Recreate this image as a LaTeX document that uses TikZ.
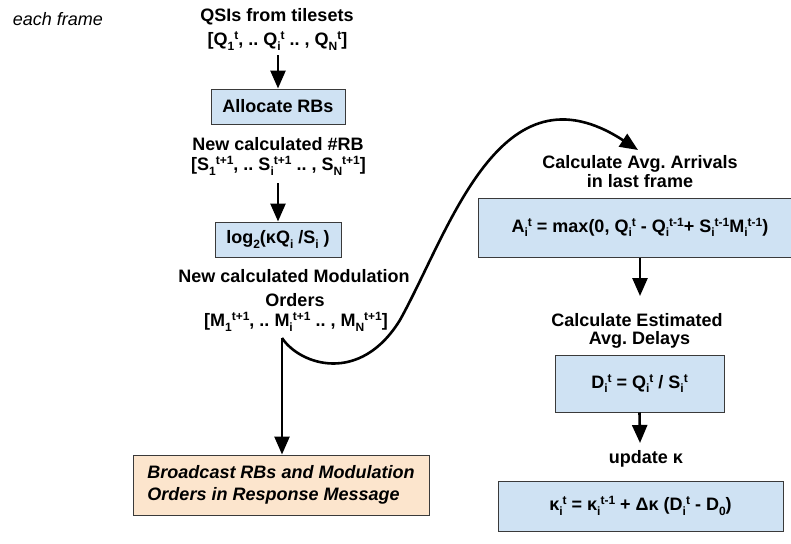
\documentclass[tikz,border=0pt]{standalone}
\usepackage{fontspec}
\setmainfont{Liberation Sans}
\usetikzlibrary{arrows.meta}
\definecolor{boxblue}{HTML}{CFE2F3}
\definecolor{boxorange}{HTML}{FCE5CD}
\definecolor{boxline}{HTML}{3A3A3A}
\newcommand{\MySub}[1]{{\fontsize{12}{12}\selectfont\raisebox{-4.5pt}{#1}}}
\newcommand{\MySup}[1]{{\fontsize{12}{12}\selectfont\raisebox{6pt}{#1}}}
\newcommand{\SubSup}[2]{\MySub{#1}\MySup{#2}}
\frenchspacing
\begin{document}
\begin{tikzpicture}[x=1pt,y=-1pt,
  txt/.style={font=\fontsize{18}{22}\selectfont\bfseries, inner sep=0pt, anchor=base},
  box/.style={draw=boxline, line width=1pt, inner sep=0pt,
    font=\fontsize{18}{22}\selectfont\bfseries},
  bluebox/.style={box, fill=boxblue},
  arr/.style={line width=2.6pt, -{Triangle[width=15pt,length=18pt]}}]
\useasboundingbox (0,0) rectangle (791,543);

% left column
\node[txt, font=\fontsize{18}{22}\selectfont\itshape] (ef) at (58,26) {each frame};
\node[txt] (q1) at (277,22) {QSIs from tilesets};
\node[txt] (q2) at (277.5,45.5) {[Q\SubSup{1}{t}, .. Q\SubSup{i}{t} .. , Q\SubSup{N}{t}]};
\coordinate (q2s) at (278,55);
\node[bluebox, minimum width=134pt, minimum height=35pt] (alloc) at (278,106.5) {Allocate RBs};
\node[txt] (s1) at (278,150) {New calculated \#RB};
\node[txt] (s2) at (278.5,170.5) {[S\SubSup{1}{t+1}, .. S\SubSup{i}{t+1} .. , S\SubSup{N}{t+1}]};
\coordinate (s2s) at (278,183);
\node[bluebox, minimum width=126pt, minimum height=35pt] (logb) at (278,239.5) {log\MySub{2}(κQ\MySub{i} /S\MySub{i} )};
\node[txt] (m1) at (294,282.7) {New calculated Modulation};
\node[txt] (m2) at (295,306) {Orders};
\node[txt] (m3) at (296,326.7) {[M\SubSup{1}{t+1}, .. M\SubSup{i}{t+1} .. , M\SubSup{N}{t+1}]};
\coordinate (ms) at (282,338);
\node[box, fill=boxorange, minimum width=296pt, minimum height=60pt, align=left,
  font=\fontsize{18}{22.5}\selectfont\bfseries\itshape] (bc) at (281,485)
  {Broadcast RBs and Modulation\\Orders in Response Message};

% right column
\node[txt] (ca1) at (640,168.3) {Calculate Avg. Arrivals};
\node[txt] (ca2) at (640,187.3) {in last frame};
\coordinate (cat) at (638,150);
\node[bluebox, minimum width=324pt, minimum height=59pt] (boxa) at (640,227.5)
  {A\SubSup{i}{t} = max(0, Q\SubSup{i}{t} - Q\SubSup{i}{t-1}+ S\SubSup{i}{t-1}M\SubSup{i}{t-1})};
\node[txt] (ce1) at (637,326.7) {Calculate Estimated};
\node[txt] (ce2) at (639.5,344) {Avg. Delays};
\coordinate (cet) at (640,296);
\node[bluebox, minimum width=169pt, minimum height=57pt] (boxd) at (639.5,383.5)
  {D\SubSup{i}{t} = Q\SubSup{i}{t} / S\SubSup{i}{t}};
\node[txt] (uk) at (646,463) {update κ};
\coordinate (ukt) at (640,443);
\node[bluebox, minimum width=285pt, minimum height=50pt] (boxk) at (640.5,506)
  {κ\SubSup{i}{t} = κ\SubSup{i}{t-1} + Δκ (D\SubSup{i}{t} - D\MySub{0})};

% connectors
\draw[arr] (q2s) -- (q2s |- alloc.north);
\draw[arr] (s2s) -- (s2s |- logb.north);
\draw[arr] (ms) -- (ms |- bc.north);
\draw[arr] (ms) .. controls (300,365) and (360,385) .. (400,320)
  .. controls (450,230) and (500,60) .. (cat);
\draw[arr] (boxa.south) -- (cet);
\draw[arr] (boxd.south) -- (ukt);
\end{tikzpicture}
\end{document}
